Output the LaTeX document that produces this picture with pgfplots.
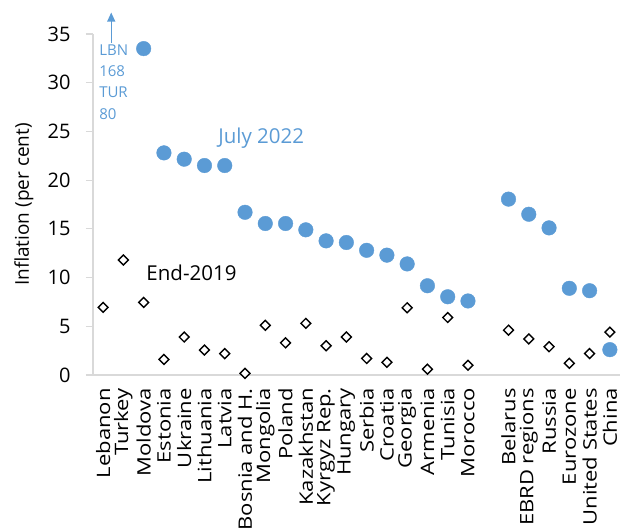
\documentclass[border=0pt]{standalone}
\usepackage{pgfplots}
\pgfplotsset{compat=1.18}
\usetikzlibrary{arrows.meta}
\usepackage{fontspec}
\setmainfont{Open Sans}
\newfontfamily\tallfont[FakeStretch=1.19]{Open Sans}
\definecolor{myblue}{HTML}{5B9BD5}
\definecolor{axgray}{HTML}{D9D9D9}
\begin{document}
\begin{tikzpicture}
\useasboundingbox (-93bp,-155bp) rectangle (527bp,375bp);
\begin{axis}[
  scale only axis,
  width=527bp, height=341bp,
  xmin=-0.5, xmax=25.5,
  ymin=0, ymax=35,
  axis x line=bottom, axis y line=left,
  axis line style={axgray, line width=1.2bp, -},
  xtick={0,1,2,3,4,5,6,7,8,9,10,11,12,13,14,15,16,17,18,20,21,22,23,24,25},
  xticklabels={Lebanon,Turkey,Moldova,Estonia,Ukraine,Lithuania,Latvia,Bosnia and H.,Mongolia,Poland,Kazakhstan,Kyrgyz Rep.,Hungary,Serbia,Croatia,Georgia,Armenia,Tunisia,Morocco,Belarus,EBRD regions,Russia,Eurozone,United States,China},
  x tick style={draw=none},
  ytick={0,5,...,35},
  y tick style={axgray, line width=1.2bp},
  tick align=outside,
  major tick length=7bp,
  xticklabel style={rotate=90, anchor=east, font=\tallfont\fontsize{18.5bp}{20bp}\selectfont, inner sep=0pt},
  xticklabel shift=6bp,
  yticklabel style={font=\fontsize{20bp}{22bp}\selectfont, xshift=-12bp},
  /pgf/number format/assume math mode=true,
  ylabel={Inflation (per cent)},
  ylabel style={font=\fontsize{19bp}{21bp}\selectfont, at={(axis description cs:-0.131,0.5)}, anchor=center},
  clip=false,
]
\addplot[only marks, mark=square*, mark size=3.5bp, mark options={fill=white, draw=black, line width=1.4bp, rotate=45}]
coordinates {
(0,6.94) (1,11.8) (2,7.45) (3,1.6) (4,3.9) (5,2.56) (6,2.2) (7,0.17) (8,5.1) (9,3.3)
(10,5.3) (11,3.0) (12,3.9) (13,1.7) (14,1.3) (15,6.9) (16,0.6) (17,5.9) (18,1.0)
(20,4.6) (21,3.7) (22,2.9) (23,1.2) (24,2.2) (25,4.4)
};
\addplot[only marks, mark=*, mark size=7.3bp, mark options={fill=myblue, draw=myblue}]
coordinates {
(2,33.5) (3,22.8) (4,22.15) (5,21.5) (6,21.5) (7,16.7) (8,15.55) (9,15.55)
(10,14.9) (11,13.77) (12,13.6) (13,12.8) (14,12.3) (15,11.4) (16,9.16) (17,8.03) (18,7.6)
(20,18.05) (21,16.5) (22,15.1) (23,8.9) (24,8.65) (25,2.6)
};
\draw[myblue, line width=1.2bp, -{Triangle[length=9bp,width=8bp]}] (axis cs:0.4,34.1) -- (axis cs:0.4,37.2);
\node[anchor=north west, align=left, text=myblue, inner sep=0pt, font=\fontsize{15bp}{21.3bp}\selectfont] at (axis cs:-0.2,33.95) {LBN\\168\\TUR\\80};
\node[text=myblue, font=\fontsize{20.5bp}{22bp}\selectfont] at (axis cs:7.8,24.3) {July 2022};
\node[font=\fontsize{20.5bp}{22bp}\selectfont] at (axis cs:4.36,10.46) {End-2019};
\end{axis}
\end{tikzpicture}
\end{document}
